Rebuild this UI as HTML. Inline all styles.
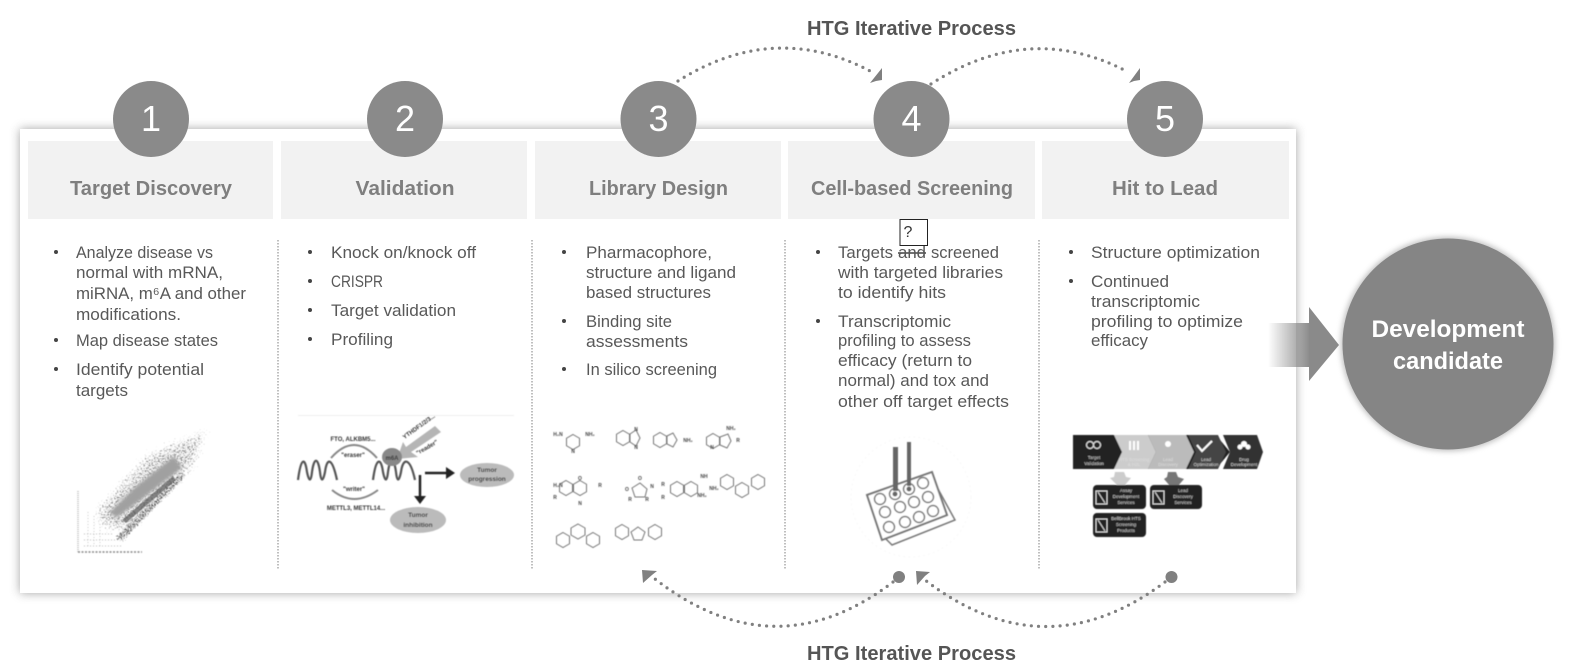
<!DOCTYPE html>
<html><head><meta charset="utf-8">
<style>
html,body{margin:0;padding:0;background:#fff;width:1569px;height:671px;overflow:hidden}
svg{display:block;font-family:"Liberation Sans",sans-serif}
.b{font-size:17px;fill:#595959}
.h{font-size:20.5px;font-weight:bold;fill:#7f7f7f;text-anchor:middle}
.n{font-size:36px;fill:#fff;text-anchor:middle}
.t{font-size:20px;font-weight:bold;fill:#555;text-anchor:middle}
.dot{fill:none;stroke:#808080;stroke-width:3.2;stroke-linecap:round;stroke-dasharray:0 7.2}
.v{stroke:#aaa;stroke-width:1.5;stroke-dasharray:1.5 1.5}
.m{fill:none;stroke:#777;stroke-width:1}
.s{font-size:6px;font-weight:bold;fill:#333;text-anchor:middle}
.k{font-size:5px;font-weight:bold;fill:#444;text-anchor:middle}
.d{font-size:6.5px;font-weight:bold;fill:#333;text-anchor:middle}
.w{font-size:4.5px;fill:#ddd;text-anchor:middle}
</style></head><body>
<svg width="1569" height="671" viewBox="0 0 1569 671" xmlns="http://www.w3.org/2000/svg">
<defs>
<filter id="sh" x="-5%" y="-10%" width="110%" height="120%"><feGaussianBlur stdDeviation="5"/></filter>
<filter id="bl" x="-10%" y="-10%" width="120%" height="120%"><feGaussianBlur stdDeviation="0.45"/></filter>
<filter id="bt" x="-2%" y="-2%" width="104%" height="104%"><feGaussianBlur stdDeviation="0.3"/></filter>
<filter id="bl2" x="-30%" y="-30%" width="160%" height="160%"><feGaussianBlur stdDeviation="1.6"/></filter>
<filter id="cs" x="-10%" y="-10%" width="120%" height="120%"><feGaussianBlur stdDeviation="3"/></filter>
<filter id="spk" filterUnits="userSpaceOnUse" x="60" y="405" width="180" height="160" color-interpolation-filters="sRGB">
 <feTurbulence type="fractalNoise" baseFrequency="0.75" numOctaves="1" seed="7" result="n"/>
 <feColorMatrix in="n" type="matrix" values="0 0 0 0 0  0 0 0 0 0  0 0 0 0 0  1 0 0 0 0" result="na"/>
 <feGaussianBlur in="SourceAlpha" stdDeviation="7" result="d"/>
 <feComposite in="na" in2="d" operator="arithmetic" k1="0" k2="1" k3="1" k4="-1"/>
 <feComponentTransfer><feFuncA type="linear" slope="5"/></feComponentTransfer>
 <feGaussianBlur stdDeviation="0.4"/>
</filter>
<filter id="spk2" filterUnits="userSpaceOnUse" x="60" y="405" width="180" height="160" color-interpolation-filters="sRGB">
 <feTurbulence type="fractalNoise" baseFrequency="0.75" numOctaves="1" seed="19" result="n"/>
 <feColorMatrix in="n" type="matrix" values="0 0 0 0 0  0 0 0 0 0  0 0 0 0 0  1 0 0 0 0" result="na"/>
 <feGaussianBlur in="SourceAlpha" stdDeviation="2" result="d"/>
 <feComposite in="na" in2="d" operator="arithmetic" k1="0" k2="1" k3="1" k4="-1"/>
 <feComponentTransfer><feFuncA type="linear" slope="5"/></feComponentTransfer>
 <feGaussianBlur stdDeviation="0.4"/>
</filter>
<linearGradient id="ag" x1="0" x2="1" y1="0" y2="0"><stop offset="0" stop-color="#8a8a8a" stop-opacity="0"/><stop offset="1" stop-color="#8a8a8a"/></linearGradient>
<polygon id="hx" points="0,-7.500 6.500,-3.750 6.500,3.750 0,7.500 -6.500,3.750 -6.500,-3.750" fill="none" stroke="#777" stroke-width="1"/>
</defs>

<!-- panel -->
<rect x="20" y="129" width="1276" height="464" fill="#666" opacity=".6" filter="url(#sh)"/>
<rect x="20" y="129" width="1276" height="464" fill="#fff"/>

<!-- headers -->
<g fill="#f2f2f2">
<rect x="28" y="141" width="245" height="78"/><rect x="281" y="141" width="246" height="78"/>
<rect x="535" y="141" width="246" height="78"/><rect x="788" y="141" width="247" height="78"/>
<rect x="1042" y="141" width="247" height="78"/>
</g>
<text class="h" x="151" y="195" textLength="162" lengthAdjust="spacingAndGlyphs">Target Discovery</text>
<text class="h" x="405" y="195" textLength="99" lengthAdjust="spacingAndGlyphs">Validation</text>
<text class="h" x="658.500" y="195" textLength="139" lengthAdjust="spacingAndGlyphs">Library Design</text>
<text class="h" x="912" y="195" textLength="202" lengthAdjust="spacingAndGlyphs">Cell-based Screening</text>
<text class="h" x="1165" y="195" textLength="106" lengthAdjust="spacingAndGlyphs">Hit to Lead</text>

<!-- number circles -->
<g fill="#8a8a8a">
<circle cx="151" cy="119" r="38"/><circle cx="405" cy="119" r="38"/><circle cx="658.500" cy="119" r="38"/>
<circle cx="911.500" cy="119" r="38"/><circle cx="1165" cy="119" r="38"/>
</g>
<text class="n" x="151" y="131">1</text><text class="n" x="405" y="131">2</text><text class="n" x="658.500" y="131">3</text>
<text class="n" x="911.500" y="131">4</text><text class="n" x="1165" y="131">5</text>

<!-- dividers -->
<line class="v" x1="278" y1="240" x2="278" y2="569"/>
<line class="v" x1="532" y1="240" x2="532" y2="569"/>
<line class="v" x1="785" y1="240" x2="785" y2="569"/>
<line class="v" x1="1039" y1="240" x2="1039" y2="569"/>

<!-- bullets -->
<g fill="#444"><circle cx="56" cy="252" r="2"/><circle cx="56" cy="340" r="2"/><circle cx="56" cy="369" r="2"/>
<circle cx="310" cy="252" r="2"/><circle cx="310" cy="281" r="2"/><circle cx="310" cy="310" r="2"/><circle cx="310" cy="339" r="2"/>
<circle cx="564" cy="252" r="2"/><circle cx="564" cy="321" r="2"/><circle cx="564" cy="369" r="2"/>
<circle cx="818" cy="252" r="2"/><circle cx="818" cy="321" r="2"/>
<circle cx="1071" cy="252" r="2"/><circle cx="1071" cy="281" r="2"/></g>

<g class="b" filter="url(#bt)">
<text x="76" y="258" textLength="137" lengthAdjust="spacingAndGlyphs">Analyze disease vs</text>
<text x="76" y="278" textLength="147" lengthAdjust="spacingAndGlyphs">normal with mRNA,</text>
<text x="76" y="299" textLength="170" lengthAdjust="spacingAndGlyphs">miRNA, m⁶A and other</text>
<text x="76" y="320" textLength="105" lengthAdjust="spacingAndGlyphs">modifications.</text>
<text x="76" y="346" textLength="142" lengthAdjust="spacingAndGlyphs">Map disease states</text>
<text x="76" y="375" textLength="128" lengthAdjust="spacingAndGlyphs">Identify potential</text>
<text x="76" y="396" textLength="52" lengthAdjust="spacingAndGlyphs">targets</text>

<text x="331" y="258" textLength="145" lengthAdjust="spacingAndGlyphs">Knock on/knock off</text>
<text x="331" y="287" textLength="52" lengthAdjust="spacingAndGlyphs">CRISPR</text>
<text x="331" y="316" textLength="125" lengthAdjust="spacingAndGlyphs">Target validation</text>
<text x="331" y="345" textLength="62" lengthAdjust="spacingAndGlyphs">Profiling</text>

<text x="586" y="258" textLength="126" lengthAdjust="spacingAndGlyphs">Pharmacophore,</text>
<text x="586" y="278" textLength="150" lengthAdjust="spacingAndGlyphs">structure and ligand</text>
<text x="586" y="298" textLength="125" lengthAdjust="spacingAndGlyphs">based structures</text>
<text x="586" y="327" textLength="86" lengthAdjust="spacingAndGlyphs">Binding site</text>
<text x="586" y="347" textLength="102" lengthAdjust="spacingAndGlyphs">assessments</text>
<text x="586" y="375" textLength="131" lengthAdjust="spacingAndGlyphs">In silico screening</text>

<text x="838" y="258" textLength="55" lengthAdjust="spacingAndGlyphs">Targets</text>
<text x="898" y="258" textLength="28" lengthAdjust="spacingAndGlyphs" text-decoration="line-through">and</text>
<text x="931" y="258" textLength="68" lengthAdjust="spacingAndGlyphs">screened</text>
<text x="838" y="278" textLength="165" lengthAdjust="spacingAndGlyphs">with targeted libraries</text>
<text x="838" y="298" textLength="108" lengthAdjust="spacingAndGlyphs">to identify hits</text>
<text x="838" y="327" textLength="113" lengthAdjust="spacingAndGlyphs">Transcriptomic</text>
<text x="838" y="346" textLength="133" lengthAdjust="spacingAndGlyphs">profiling to assess</text>
<text x="838" y="366" textLength="134" lengthAdjust="spacingAndGlyphs">efficacy (return to</text>
<text x="838" y="386" textLength="151" lengthAdjust="spacingAndGlyphs">normal) and tox and</text>
<text x="838" y="407" textLength="171" lengthAdjust="spacingAndGlyphs">other off target effects</text>

<text x="1091" y="258" textLength="169" lengthAdjust="spacingAndGlyphs">Structure optimization</text>
<text x="1091" y="287" textLength="78" lengthAdjust="spacingAndGlyphs">Continued</text>
<text x="1091" y="307" textLength="109" lengthAdjust="spacingAndGlyphs">transcriptomic</text>
<text x="1091" y="327" textLength="152" lengthAdjust="spacingAndGlyphs">profiling to optimize</text>
<text x="1091" y="346" textLength="57" lengthAdjust="spacingAndGlyphs">efficacy</text>
</g>

<!-- question box -->
<rect x="900" y="219.500" width="27.500" height="26" fill="none" stroke="#222" stroke-width="1"/>
<text x="908" y="237" font-size="16" fill="#333" text-anchor="middle">?</text>

<!-- top arcs -->
<path class="dot" d="M678 81 Q775 20 872 72"/>
<polygon points="882,68 870,83 876,81 882,80" fill="#808080"/>
<path class="dot" d="M931 84 Q1030 20 1128 72"/>
<polygon points="1140,68 1129,83 1134,81 1140,80" fill="#808080"/>
<text class="t" x="911.500" y="35" textLength="209" lengthAdjust="spacingAndGlyphs">HTG Iterative Process</text>

<!-- bottom arcs -->
<path class="dot" d="M893 582 Q775 672 655 579"/>
<polygon points="642,570 657,571 652,575 643,583" fill="#808080"/>
<circle cx="899" cy="577" r="6" fill="#808080"/>
<path class="dot" d="M1165 582 Q1045 672 925 580"/>
<polygon points="916,571 930,572 925,576 917,585" fill="#808080"/>
<circle cx="1171.500" cy="577" r="6" fill="#808080"/>
<text class="t" x="911.500" y="660" textLength="209" lengthAdjust="spacingAndGlyphs">HTG Iterative Process</text>

<!-- arrow -->
<rect x="1268" y="323" width="42" height="44" fill="url(#ag)"/>
<polygon points="1309,307 1339,345 1309,381" fill="#8a8a8a"/>

<!-- dev circle -->
<circle cx="1448" cy="344" r="107" fill="#888" opacity=".55" filter="url(#cs)"/>
<circle cx="1448" cy="344" r="105.500" fill="#858585"/>
<text x="1448" y="337" font-size="24" font-weight="bold" fill="#fff" text-anchor="middle" textLength="153" lengthAdjust="spacingAndGlyphs">Development</text>
<text x="1448" y="369" font-size="24" font-weight="bold" fill="#fff" text-anchor="middle" textLength="110" lengthAdjust="spacingAndGlyphs">candidate</text>

<!-- scatter -->
<g opacity=".5"><polygon points="88,512 145,450 218,420 196,472 128,538 100,532" fill="#000" fill-opacity=".54" filter="url(#spk)"/></g>
<g opacity=".65"><polygon points="112,538 182,470 188,476 122,544" fill="#000" fill-opacity=".6" filter="url(#spk2)"/></g>
<polygon points="110,512 116,518 134,505 182,468 174,456 134,488" fill="#a0a0a0" filter="url(#bl2)"/>
<polygon points="122,520 126,523 176,480 173,476" fill="#555" opacity=".7" filter="url(#bl)"/>
<g fill="none" filter="url(#bl)">
<path d="M78 491 V552" stroke="#bbb" stroke-width="1.500" stroke-dasharray="1 1"/>
<path d="M78 552 H142" stroke="#888" stroke-width="1.500" stroke-dasharray="2 1.500"/>
<path d="M88 512 V546 M94 516 V546 M100 524 V546" stroke="#ccc" stroke-width="1" stroke-dasharray="1 2"/>
<path d="M84 534 H112 M84 540 H116 M84 546 H122" stroke="#bbb" stroke-width="1" stroke-dasharray="1 2"/>
</g>

<!-- epitranscriptomic diagram -->
<g filter="url(#bl)">
<rect x="298" y="415" width="216" height="1" fill="#eee"/>
<g fill="none" stroke="#555" stroke-width="2.200">
<path d="M298 480 C301 457 305 457 307 472 C309 482 311 482 312 472 C314 457 318 457 320 472 C321 482 323 482 325 472 C327 457 332 457 337 480"/>
<path d="M373 480 C376 457 381 457 383 472 C385 482 387 482 388 472 C390 457 394 457 396 472 C397 482 399 482 401 472 C403 457 410 457 415 480"/>
</g>
<g fill="none" stroke="#888" stroke-width="2">
<path d="M331 458 Q354 432 377 458"/>
<path d="M332 490 Q354 508 378 490"/>
</g>
<polygon points="435,426 441,432 411,452 418,457 397,459 403,442 406,447" fill="#b5b5b5"/>
<ellipse cx="392" cy="457" rx="10" ry="9" fill="#888"/>
<text class="s" x="392" y="460">m6A</text>
<text class="s" x="353" y="441">FTO, ALKBM5...</text>
<text class="s" x="353" y="457">"eraser"</text>
<text class="s" x="354" y="491">"writer"</text>
<text class="s" x="356" y="510">METTL3, METTL14...</text>
<text class="s" x="420" y="428" transform="rotate(-36 420 428)">YTHDF1/2/3...</text>
<text class="s" x="428" y="449" transform="rotate(-30 428 449)">"reader"</text>
<path d="M425 473 H447" stroke="#222" stroke-width="2.500"/><polygon points="446,467 455,473 446,479" fill="#222"/>
<path d="M420 475 V497" stroke="#222" stroke-width="2.500"/><polygon points="414,496 426,496 420,504" fill="#222"/>
<ellipse cx="487" cy="475" rx="27" ry="12" fill="#bbb"/>
<ellipse cx="418" cy="520" rx="28" ry="13" fill="#bbb"/>
<text class="d" x="487" y="472">Tumor</text><text class="d" x="487" y="481">progression</text>
<text class="d" x="418" y="517">Tumor</text><text class="d" x="418" y="527">inhibition</text>
</g>

<!-- molecules -->
<g filter="url(#bl)">
<use href="#hx" x="573" y="442"/><text class="k" x="558" y="436">H₂N</text><text class="k" x="590" y="436">NH₂</text><text class="k" x="573" y="453">N</text>
<use href="#hx" x="623" y="438"/><polygon class="m" points="630,434 636,430 640,438 636,446 630,442"/><text class="k" x="636" y="431">N</text><text class="k" x="636" y="449">N</text>
<use href="#hx" x="660" y="440"/><polygon class="m" points="667,436 673,433 677,440 673,447 667,444"/><text class="k" x="688" y="442">NH₂</text>
<use href="#hx" x="713" y="441"/><polygon class="m" points="720,437 728,434 731,441 727,448 720,445"/><text class="k" x="731" y="430">NH₂</text><text class="k" x="738" y="442">R</text><text class="k" x="712" y="449">N</text>
<use href="#hx" x="566" y="488"/><use href="#hx" x="580" y="488"/><text class="k" x="558" y="487">H₂N</text><text class="k" x="580" y="480">O</text><text class="k" x="600" y="487">R</text><text class="k" x="555" y="499">R</text><text class="k" x="580" y="505">N</text>
<polygon class="m" points="632,488 640,483 647,489 645,497 635,497"/><text class="k" x="627" y="491">O</text><text class="k" x="640" y="480">O</text><text class="k" x="652" y="488">N</text><text class="k" x="630" y="501">R</text><text class="k" x="647" y="501">R</text>
<use href="#hx" x="677" y="489"/><use href="#hx" x="691" y="489"/><text class="k" x="663" y="486">R</text><text class="k" x="663" y="499">R</text><text class="k" x="704" y="478">NH</text><text class="k" x="714" y="490">NH₂</text><text class="k" x="702" y="497">NH₂</text>
<use href="#hx" x="727" y="482"/><use href="#hx" x="742" y="490"/><use href="#hx" x="758" y="482"/>
<use href="#hx" x="563" y="540"/><use href="#hx" x="593" y="540"/><polygon class="m" points="578,524 585,528 585,535 578,539 571,535 571,528"/>
<use href="#hx" x="622" y="532"/><use href="#hx" x="655" y="532"/><polygon class="m" points="638,527 645,532 642,540 634,540 631,532"/>
</g>

<!-- well plate -->
<g filter="url(#bl)">
<circle cx="911" cy="497" r="60" fill="none" stroke="#f8f8f8" stroke-width="1" stroke-dasharray="2 3"/>
<g fill="none" stroke="#777" stroke-width="1.500">
<path d="M932 478 L955 520 L892 545 L885 538 L947 515 Z" />
<polygon points="867,495 932,472 947,515 882,540" fill="#fff" stroke-width="2"/>
<circle cx="880" cy="499" r="5.500"/><circle cx="895" cy="494" r="5.500"/><circle cx="909" cy="489" r="5.500"/><circle cx="923" cy="483" r="5.500"/>
<circle cx="885" cy="512" r="5.500"/><circle cx="900" cy="507" r="5.500"/><circle cx="914" cy="502" r="5.500"/><circle cx="928" cy="497" r="5.500"/>
<circle cx="889" cy="527" r="5.500"/><circle cx="905" cy="522" r="5.500"/><circle cx="919" cy="517" r="5.500"/><circle cx="933" cy="511" r="5.500"/>
</g>
<rect x="893" y="447" width="5" height="44" fill="#666"/><rect x="907" y="442" width="4" height="44" fill="#666"/>
<circle cx="895" cy="494" r="2.500" fill="#666"/><circle cx="909" cy="489" r="2.500" fill="#666"/>
</g>

<!-- pipeline -->
<g filter="url(#bl)">
<polygon points="1073,435 1216,435 1230,452 1216,469 1073,469" fill="#222"/>
<polygon points="1223,435 1257,435 1263,452 1257,469 1223,469 1230,452" fill="#333"/>
<polygon points="1188,435 1218,435 1226,452 1218,469 1188,469 1196,452" fill="#444"/>
<polygon points="1148,435 1186,435 1194,452 1186,469 1148,469 1156,452" fill="#bbb"/>
<polygon points="1114,435 1148,435 1156,452 1148,469 1114,469 1122,452" fill="#ccc"/>
<polygon points="1073,435 1112,435 1120,452 1112,469 1073,469" fill="#222"/>
<text class="w" x="1094" y="459">Target</text><text class="w" x="1094" y="465">Validation</text>
<text class="w" x="1134" y="461" fill="#fff">HTS Screening</text><text class="w" x="1134" y="466">&amp; H2L</text>
<text class="w" x="1168" y="461">Lead</text><text class="w" x="1168" y="466">Discovery</text>
<text class="w" x="1206" y="461">Lead</text><text class="w" x="1206" y="466">Optimization</text>
<text class="w" x="1244" y="461">Drug</text><text class="w" x="1244" y="466">Development</text>
<path d="M1197 445 L1202 451 L1212 441" fill="none" stroke="#fff" stroke-width="2"/>
<circle cx="1244" cy="444" r="3" fill="#fff"/><circle cx="1240" cy="447" r="2.500" fill="#fff"/><circle cx="1248" cy="447" r="2.500" fill="#fff"/>
<circle cx="1090" cy="445" r="3.500" fill="none" stroke="#ddd" stroke-width="1.200"/><circle cx="1097" cy="445" r="3.500" fill="none" stroke="#ddd" stroke-width="1.200"/>
<path d="M1130 441 v9 M1134 441 v9 M1138 441 v9" stroke="#fff" stroke-width="2"/>
<circle cx="1168" cy="444" r="3" fill="#fff"/>
<polygon points="1115,472 1124,472 1126,477 1131,478 1125,485 1117,485 1110,478 1114,477" fill="#ccc"/>
<polygon points="1168,472 1176,472 1178,477 1184,479 1178,486 1170,486 1164,479 1167,477" fill="#777"/>
<rect x="1093" y="485" width="53" height="24" rx="4" fill="#222"/>
<rect x="1150" y="485" width="52" height="24" rx="4" fill="#222"/>
<rect x="1093" y="513" width="53" height="24" rx="4" fill="#222"/>
<g fill="none" stroke="#ddd" stroke-width="1">
<rect x="1096" y="491" width="11" height="13"/><rect x="1153" y="491" width="11" height="13"/><rect x="1096" y="519" width="11" height="13"/>
<path d="M1098 492 L1105 503 M1155 492 L1162 503 M1098 520 L1105 531"/>
</g>
<text class="w" x="1126" y="492">Assay</text><text class="w" x="1126" y="498">Development</text><text class="w" x="1126" y="504">Services</text>
<text class="w" x="1183" y="492">Lead</text><text class="w" x="1183" y="498">Discovery</text><text class="w" x="1183" y="504">Services</text>
<text class="w" x="1126" y="520">BellBrook HTS</text><text class="w" x="1126" y="526">Screening</text><text class="w" x="1126" y="532">Products</text>
</g>
</svg>
</body></html>
